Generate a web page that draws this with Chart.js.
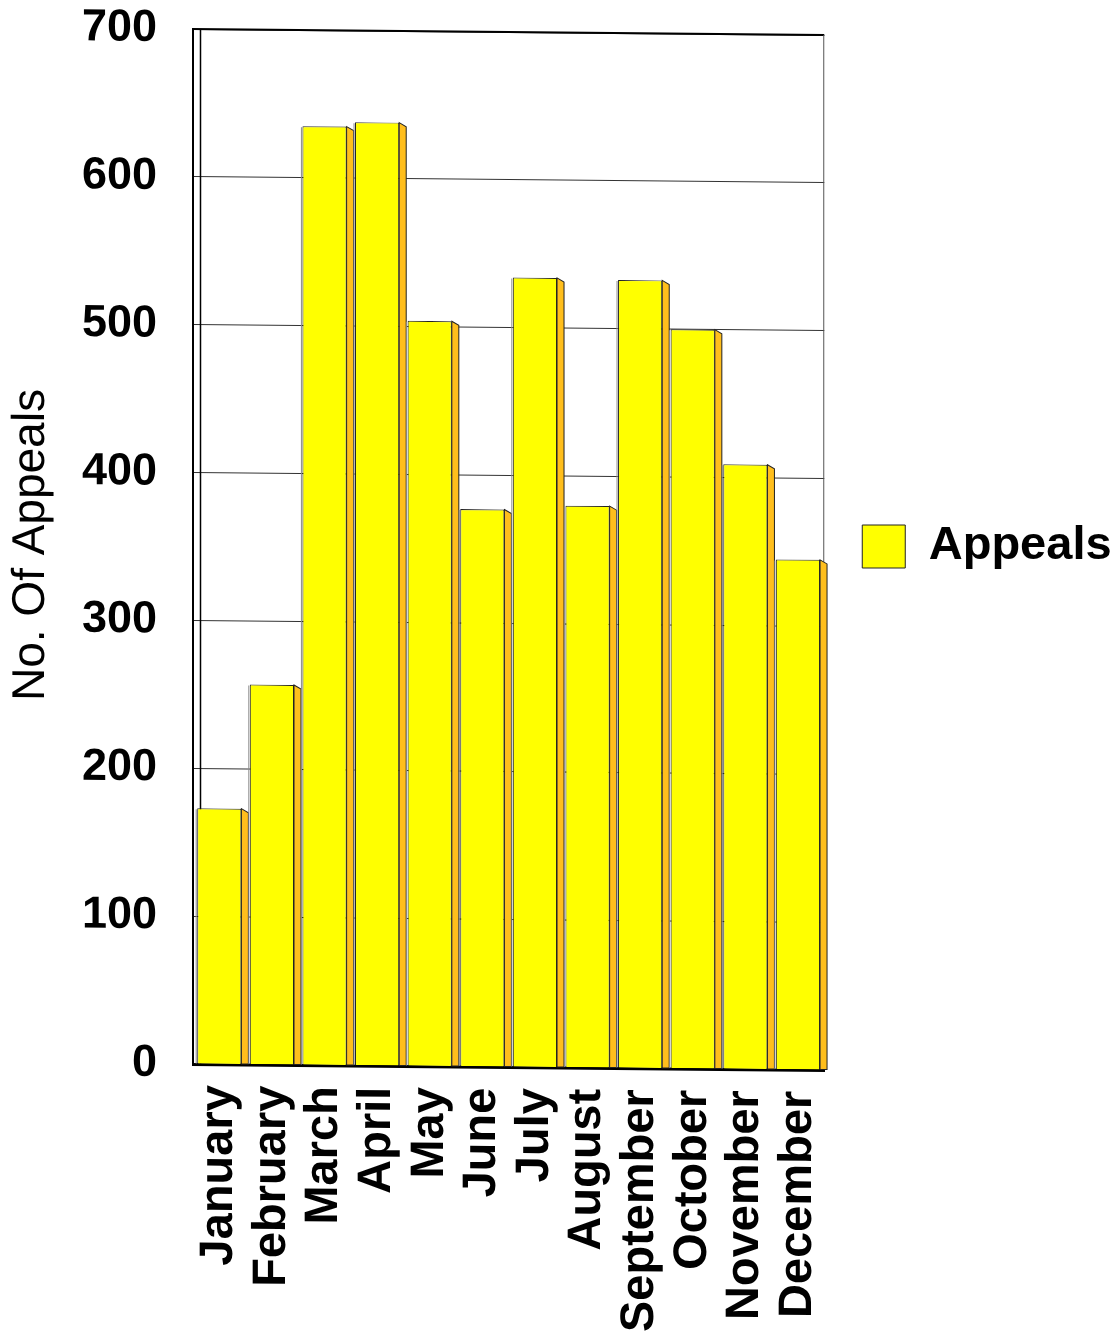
<!DOCTYPE html>
<html>
<head>
<meta charset="utf-8">
<title>Appeals by Month</title>
<script src="https://cdn.jsdelivr.net/npm/chart.js@4.4.1/dist/chart.umd.min.js"></script>
<style>
  html, body { margin: 0; padding: 0; background: #ffffff; }
  #wrap { width: 1117px; height: 1338px; }
  canvas { display: block; }
</style>
</head>
<body>
<div id="wrap"><canvas id="chart" width="1117" height="1338"></canvas></div>
<script>
// Monthly appeal counts
const months = ['January', 'February', 'March', 'April', 'May', 'June',
                'July', 'August', 'September', 'October', 'November', 'December'];
const appeals = [173, 257, 635, 638, 504, 377, 534, 380, 533, 500, 409, 345];
const yTicks = [0, 100, 200, 300, 400, 500, 600, 700];

const FONT = '"Liberation Sans", Arial, Helvetica, sans-serif';
const FRONT = '#FFFF00';
const SIDE = '#FFBE1C';
const EDGE = '#222222';
const SKEW = 0.0095;      // slight downward tilt of the plot to the right
const SIDE_W = 7;         // depth of the bar side faces
const SIDE_DROP = 4;

// Tilts the whole drawing a little so the plot reads as a 3D wall
const tiltPlugin = {
  id: 'tilt',
  beforeDraw(chart) {
    const ctx = chart.ctx;
    const x0 = chart.chartArea.left;
    ctx.save();
    ctx.transform(1, SKEW, 0, 1, 0, -SKEW * x0);
    // keep the legend upright and centred beside the plot
    const lg = chart.legend;
    if (lg && !lg._upright) {
      const orig = lg.draw;
      lg.draw = function (...args) {
        const c = this.ctx;
        const dpr = chart.currentDevicePixelRatio || 1;
        const a = chart.chartArea;
        const dy = (a.top + a.bottom) / 2 - (this.top + this.bottom) / 2;
        c.save();
        c.setTransform(dpr, 0, 0, dpr, 0, 0);
        c.translate(0, dy);
        if (typeof this._draw === 'function') {
          this._draw();
        } else {
          orig.apply(this, args);
        }
        c.restore();
      };
      lg._upright = true;
    }
  },
  afterDraw(chart) {
    chart.ctx.restore();
  }
};

// Frame of the plot wall: top and right edges plus the inner left edge
const framePlugin = {
  id: 'frame',
  beforeDatasetsDraw(chart) {
    const {ctx, chartArea: a} = chart;
    ctx.save();
    ctx.strokeStyle = '#000';
    ctx.lineWidth = 2;
    ctx.beginPath();
    ctx.moveTo(a.left, a.top);
    ctx.lineTo(a.right, a.top);
    ctx.stroke();
    ctx.lineWidth = 1.5;
    ctx.beginPath();
    ctx.moveTo(a.left + 7.5, a.top);
    ctx.lineTo(a.left + 7.5, a.bottom);
    ctx.stroke();
    ctx.strokeStyle = '#555';
    ctx.lineWidth = 1;
    ctx.beginPath();
    ctx.moveTo(a.right - 0.5, a.top);
    ctx.lineTo(a.right - 0.5, a.bottom);
    ctx.stroke();
    ctx.restore();
  }
};

// Right-hand side faces of the bars
const barSidePlugin = {
  id: 'barSides',
  afterDatasetsDraw(chart) {
    const ctx = chart.ctx;
    const meta = chart.getDatasetMeta(0);
    ctx.save();
    ctx.fillStyle = SIDE;
    ctx.strokeStyle = EDGE;
    ctx.lineWidth = 1;
    meta.data.forEach((bar) => {
      const p = bar.getProps(['x', 'y', 'base', 'width'], true);
      const r = p.x + p.width / 2;
      ctx.beginPath();
      ctx.moveTo(r, p.y);
      ctx.lineTo(r + SIDE_W, p.y + SIDE_DROP);
      ctx.lineTo(r + SIDE_W, p.base);
      ctx.lineTo(r, p.base);
      ctx.closePath();
      ctx.fill();
      ctx.stroke();
      // soft shade along the left edge of the front face
      ctx.save();
      ctx.strokeStyle = '#8a8a8a';
      ctx.beginPath();
      ctx.moveTo(p.x - p.width / 2 - 1, p.y + 1);
      ctx.lineTo(p.x - p.width / 2 - 1, p.base);
      ctx.stroke();
      ctx.restore();
    });
    ctx.restore();
  }
};

new Chart(document.getElementById('chart'), {
  type: 'bar',
  data: {
    labels: months,
    datasets: [{
      label: 'Appeals',
      data: appeals,
      backgroundColor: FRONT,
      borderColor: EDGE,
      borderWidth: 1,
      borderSkipped: 'bottom',
      barPercentage: 0.84,
      categoryPercentage: 1.0
    }]
  },
  plugins: [tiltPlugin, framePlugin, barSidePlugin],
  options: {
    responsive: false,
    animation: false,
    events: [],
    layout: { padding: { top: 0, right: 18, bottom: 0, left: 0 } },
    plugins: {
      tooltip: { enabled: false },
      legend: {
        display: true,
        position: 'right',
        align: 'center',
        labels: {
          boxWidth: 43,
          boxHeight: 43,
          padding: 38,
          color: '#000',
          font: { family: FONT, size: 47, weight: 'bold' }
        }
      }
    },
    scales: {
      x: {
        grid: { display: false, drawTicks: false },
        border: { display: true, color: '#000', width: 3 },
        ticks: {
          color: '#000',
          autoSkip: false,
          maxRotation: 90,
          minRotation: 90,
          padding: 21,
          font: { family: FONT, size: 47, weight: 'bold' }
        },
        afterFit(scale) { scale.height = 1338 - 1064; }
      },
      y: {
        min: 0,
        max: 700,
        afterBuildTicks(scale) { scale.ticks = yTicks.map(v => ({ value: v })); },
        grid: { color: '#333', lineWidth: 1, drawTicks: false },
        border: { display: true, color: '#000', width: 2 },
        ticks: {
          color: '#000',
          padding: 36,
          font: { family: FONT, size: 45, weight: 'bold' }
        },
        title: {
          display: true,
          text: 'No. Of Appeals',
          color: '#000',
          padding: { top: 4, bottom: 0 },
          font: { family: FONT, size: 46, weight: 'normal' }
        },
        afterFit(scale) {
          scale.width = 193;
          scale.paddingTop = 29;
          scale.paddingBottom = 0;
        }
      }
    }
  }
});
</script>
</body>
</html>
